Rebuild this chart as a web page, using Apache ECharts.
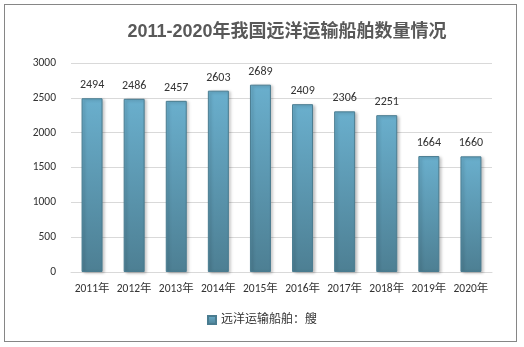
<!DOCTYPE html>
<html><head><meta charset="utf-8">
<script src="https://cdn.jsdelivr.net/npm/echarts@6/dist/echarts.min.js"></script>
<style>html,body{margin:0;padding:0;background:#fff}#c{width:524px;height:347px}
#frame{position:absolute;left:4px;top:4px;width:511px;height:336px;border:1px solid #868686;pointer-events:none}</style>
</head><body><div id="c"></div><div id="frame"></div>
<script>
const categories = ['2011年','2012年','2013年','2014年','2015年','2016年','2017年','2018年','2019年','2020年'];
const values = [2494,2486,2457,2603,2689,2409,2306,2251,1664,1660];
const seriesName = '远洋运输船舶：艘';
const yTicks = [0,500,1000,1500,2000,2500,3000];
const chart = echarts.init(document.getElementById('c'));
const font = 'Calibri, "Liberation Sans", "Noto Sans CJK SC", sans-serif';
chart.setOption({
  animation:false,
  title:{text:'2011-2020年我国远洋运输船舶数量情况',left:282,top:18,textAlign:'center',
    textStyle:{fontSize:18,fontWeight:'bold',color:'#595959',fontFamily:'"Liberation Sans","Noto Sans CJK SC",sans-serif'}},
  grid:{left:71,right:32,top:63,bottom:75},
  legend:{bottom:16,left:'center',itemWidth:8,itemHeight:8,icon:'rect',itemGap:4,
    textStyle:{fontSize:12,color:'#333',fontFamily:font},data:[seriesName]},
  xAxis:{type:'category',data:categories,axisTick:{show:false},
    axisLine:{lineStyle:{color:'#d9d9d9'}},
    axisLabel:{interval:0,fontSize:11.5,color:'#333',margin:11,fontFamily:font}},
  yAxis:{type:'value',min:yTicks[0],max:yTicks[yTicks.length-1],interval:yTicks[1]-yTicks[0],
    axisLabel:{fontSize:11.5,color:'#333',margin:15,fontFamily:font,formatter:v=>String(v)},
    splitLine:{lineStyle:{color:'#d9d9d9'}},axisLine:{show:false},axisTick:{show:false}},
  series:[{name:seriesName,type:'bar',data:values,barWidth:21,
    itemStyle:{color:new echarts.graphic.LinearGradient(0,0,0,1,[{offset:0,color:'#6aafcd'},{offset:1,color:'#4d7f93'}]),
      borderColor:'#4a7c90',borderWidth:1,shadowColor:'rgba(0,0,0,0.25)',shadowBlur:3,shadowOffsetX:2,shadowOffsetY:1},
    label:{show:true,position:'top',distance:7,fontSize:12,color:'#333',fontFamily:font,
      formatter:p=>String(p.value)}}]
});
</script></body></html>
